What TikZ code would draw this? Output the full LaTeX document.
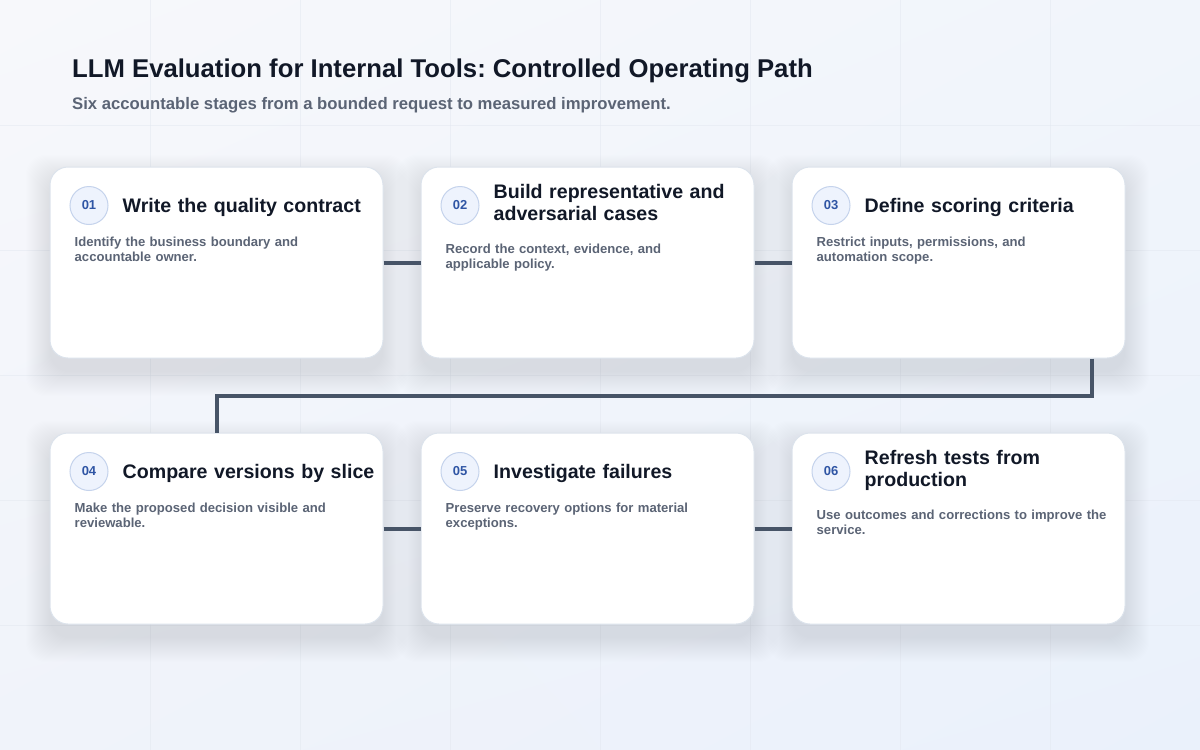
\documentclass[tikz,border=0pt]{standalone}
\usepackage{fontspec}
\setmainfont{Liberation Sans}
\frenchspacing
\usetikzlibrary{positioning,calc,shadings}
\definecolor{bgA}{HTML}{F7F8FB}
\definecolor{bgB}{HTML}{F1F5FB}
\definecolor{bgC}{HTML}{F0F3FA}
\definecolor{bgD}{HTML}{EAF1FB}
\definecolor{gridc}{HTML}{E3E8F0}
\definecolor{shadowc}{HTML}{8A9AB6}
\definecolor{inkdark}{HTML}{111827}
\definecolor{inkgray}{HTML}{5B6475}
\definecolor{cardline}{HTML}{DCE3EC}
\definecolor{linkc}{HTML}{475467}
\definecolor{badgefill}{HTML}{EEF3FD}
\definecolor{badgeline}{HTML}{C5D3EC}
\definecolor{badgeink}{HTML}{2F55A4}

\begin{document}
\begin{tikzpicture}[x=1pt,y=-1pt,
    card/.style={draw=cardline, line width=1pt, fill=white, rounded corners=18pt,
        minimum width=333pt, minimum height=191pt, inner sep=0pt},
    badge/.style={circle, draw=badgeline, line width=1pt, fill=badgefill, minimum size=38pt,
        inner sep=0pt, text=badgeink, font=\fontsize{13}{14}\selectfont\bfseries},
    stagetitle/.style={anchor=base west, inner sep=0pt, text width=265pt, align=left,
        text=inkdark, font=\fontsize{19.6}{22}\selectfont\bfseries},
    stagebody/.style={anchor=base west, inner sep=0pt, text width=300pt, align=left,
        text=inkgray, font=\fontsize{13.1}{14.5}\selectfont\bfseries},
    link/.style={draw=linkc, line width=4pt}]
    \useasboundingbox (0,0) rectangle (1200,750);
    % Background
    \shade[upper left=bgA, upper right=bgB, lower left=bgC, lower right=bgD] (0,0) rectangle (1200,750);
    \foreach \gx in {150,300,...,1050} {
        \draw[gridc, line width=0.8pt, opacity=0.5] (\gx,0) -- (\gx,750);
    }
    \foreach \gy in {125,250,...,625} {
        \draw[gridc, line width=0.8pt, opacity=0.5] (0,\gy) -- (1200,\gy);
    }
    % Heading
    \node[anchor=base west, inner sep=0pt, text=inkdark, font=\fontsize{25.7}{30}\selectfont\bfseries]
        (head) at (72,77) {LLM Evaluation for Internal Tools: Controlled Operating Path};
    \node[anchor=base west, inner sep=0pt, text=inkgray, font=\fontsize{16.7}{19}\selectfont\bfseries]
        (sub) at (72,109) {Six accountable stages from a bounded request to measured improvement.};
    % Stage cards
    \foreach \i/\cx/\cy/\ttl/\toff/\txt/\boff in {
        1/216.5/262.5/{Write the quality contract}/46/{Identify the business boundary and\\accountable owner.}/80,
        2/587.5/262.5/{Build representative and\\adversarial cases}/32/{Record the context, evidence, and\\applicable policy.}/87,
        3/958.5/262.5/{Define scoring criteria}/46/{Restrict inputs, permissions, and\\automation scope.}/80,
        4/216.5/528.5/{Compare versions by slice}/46/{Make the proposed decision visible and\\reviewable.}/80,
        5/587.5/528.5/{Investigate failures}/46/{Preserve recovery options for material\\exceptions.}/80,
        6/958.5/528.5/{Refresh tests from\\production}/32/{Use outcomes and corrections to improve the\\service.}/87} {
        % soft shadow
        \foreach \s in {0,...,24} {
            \fill[shadowc, opacity=0.009, rounded corners=20pt]
                (\cx-166.5-\s, \cy-83.5-\s) rectangle (\cx+166.5+\s, \cy+109.5+\s);
        }
        \node[card] (c\i) at (\cx,\cy) {};
        \node[badge] (b\i) at ([shift={(39.5,39)}]c\i.north west) {0\i};
        \node[stagetitle] (t\i) at ([shift={(73,\toff)}]c\i.north west) {\ttl};
        \node[stagebody] (d\i) at ([shift={(25,\boff)}]c\i.north west) {\txt};
    }
    % Path between stages
    \draw[link] (c1) -- (c2);
    \draw[link] (c2) -- (c3);
    \coordinate (drop) at ([xshift=-34pt]c3.south east);
    \coordinate (bend) at ($(c3.south)!0.5!(c4.north)$);
    \draw[link] (drop) |- (bend) -| (c4.north);
    \draw[link] (c4) -- (c5);
    \draw[link] (c5) -- (c6);
\end{tikzpicture}
\end{document}
